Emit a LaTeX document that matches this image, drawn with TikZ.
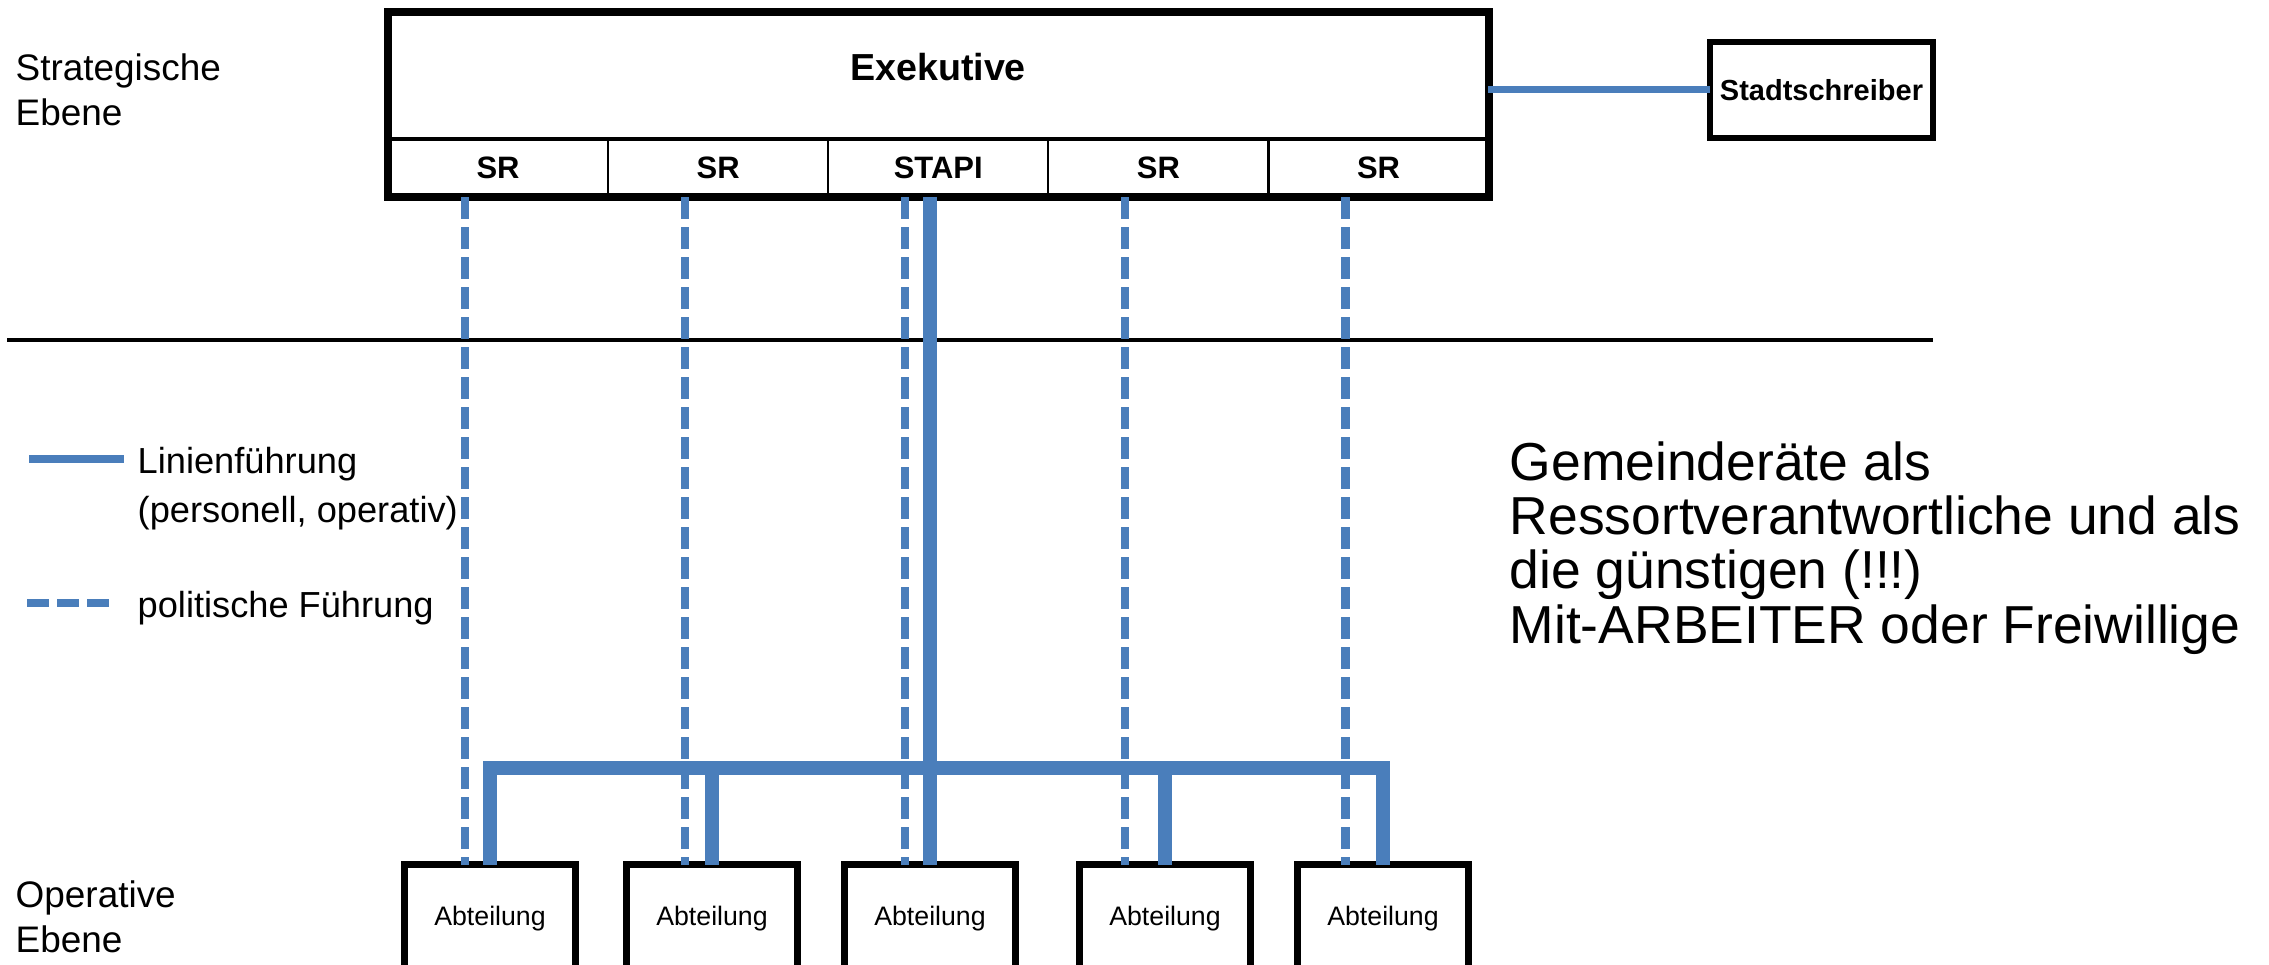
\documentclass[tikz,border=0pt]{standalone}
\usepackage{fontspec}
\setmainfont{Liberation Sans}
\usepackage{tikz}
\usetikzlibrary{positioning}

\definecolor{lineblue}{RGB}{74,126,187}

\tikzset{
	exbox/.style={draw, line width=1.2pt, minimum width=11cm, minimum height=1.27cm, inner sep=0pt, outer sep=0pt},
	cell/.style={draw, line width=0.6pt, minimum width=2.2cm, minimum height=0.58cm, inner sep=0pt, outer sep=0pt, font=\fontsize{8.8}{10}\selectfont\bfseries},
	stadtbox/.style={draw, line width=1.5pt, minimum width=2.23cm, minimum height=0.96cm, inner sep=0pt, outer sep=0pt, font=\fontsize{8.25}{10}\selectfont\bfseries},
	abtbox/.style={draw, line width=2pt, minimum width=1.7cm, minimum height=1.08cm, inner sep=0pt, outer sep=0pt, font=\fontsize{7.6}{9}\selectfont},
	ebene/.style={anchor=west, align=left, inner sep=0pt, font=\fontsize{10.5}{12.8}\selectfont},
	legtext/.style={anchor=west, align=left, inner sep=0pt, font=\fontsize{10.3}{13.9}\selectfont},
	linie/.style={lineblue, line width=2pt},
	lead/.style={lineblue, line width=4.2pt},
	polit/.style={lineblue, line width=2.3pt, dash pattern=on 0.22cm off 0.08cm}
}

\begin{document}
\begin{tikzpicture}[x=0.01cm, y=-0.01cm]
	\useasboundingbox (0,0) rectangle (2269,965);

	% strategische Ebene
	\node[exbox] (exek) at (938,75.5) {};
	\node[font=\fontsize{10.7}{12}\selectfont\bfseries] (exektitle) at (938,67) {Exekutive};
	\node[cell] (sr1) at (498,168) {SR};
	\node[cell] (sr2) [right = 0cm of sr1] {SR};
	\node[cell] (stapi) [right = 0cm of sr2] {STAPI};
	\node[cell] (sr3) [right = 0cm of stapi] {SR};
	\node[cell] (sr4) [right = 0cm of sr3] {SR};
	\draw[line width=2.3pt] (exek.north west) rectangle (sr4.south east);

	\node[stadtbox] (stadt) at (1821.5,90) {Stadtschreiber};
	\draw[linie] (stadt.west -| exek.east) -- (stadt.west);

	\node[ebene] (strat) at (15,90) {Strategische\\Ebene};

	% Trennlinie
	\coordinate (sepL) at (7,340);
	\coordinate (sepR) at (1933,340);
	\draw[line width=0.9pt] (sepL) -- (sepR);

	% operative Ebene
	\node[abtbox] (abt1) at (490,919) {Abteilung};
	\node[abtbox] (abt2) at (712,919) {Abteilung};
	\node[abtbox] (abt3) at (930,919) {Abteilung};
	\node[abtbox] (abt4) at (1165,919) {Abteilung};
	\node[abtbox] (abt5) at (1383,919) {Abteilung};
	\node[ebene] (oper) at (15,917) {Operative\\Ebene};

	% politische Fuehrung
	\foreach \c/\a in {sr1/abt1, sr2/abt2, stapi/abt3, sr3/abt4, sr4/abt5}
		\draw[polit] ([xshift=-0.33cm]\c.south) -- ([xshift=-0.33cm]\c.south |- \a.north);

	% Linienfuehrung
	\coordinate (bus) at (0,768);
	\draw[lead] (stapi.south -| abt3.north) -- (abt3.north);
	\draw[lead] (abt1.north) |- (bus -| abt5.north) -- (abt5.north);
	\draw[lead] (bus -| abt2.north) -- (abt2.north);
	\draw[lead] (bus -| abt4.north) -- (abt4.north);

	% Legende
	\coordinate (legA) at (29,459);
	\coordinate (legB) at (124,459);
	\draw[linie, line width=2.3pt] (legA) -- (legB);
	\node[legtext] (leg1) at (137,489) {Linienführung\\(personell, operativ)};
	\coordinate (legC) at (27,603);
	\coordinate (legD) at (109,603);
	\draw[polit] (legC) -- (legD);
	\node[legtext] (leg2) at (137,608) {politische Führung};

	\node[anchor=west, align=left, inner sep=0pt, font=\fontsize{15.2}{15.4}\selectfont] (note) at (1509,548)
		{Gemeinderäte als\\Ressortverantwortliche und als\\die günstigen (!!!)\\Mit-ARBEITER oder Freiwillige};
\end{tikzpicture}
\end{document}
